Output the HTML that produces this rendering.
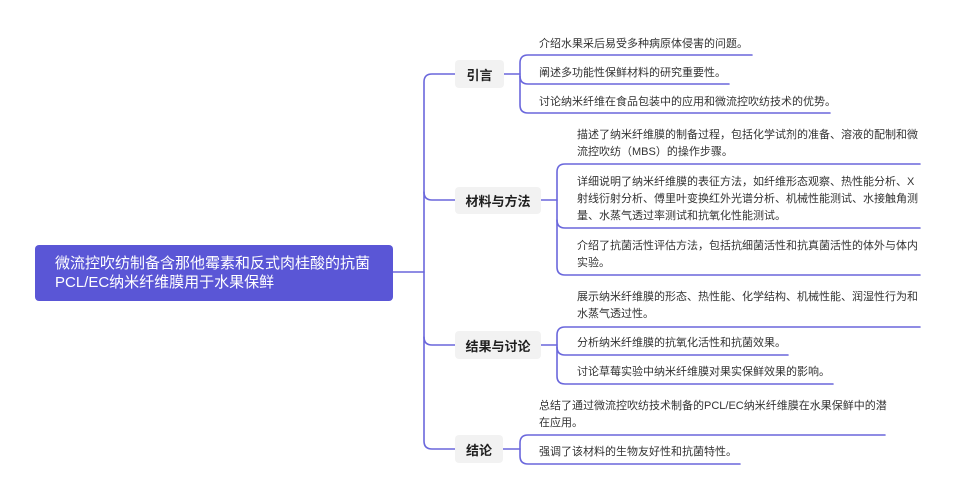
<!DOCTYPE html>
<html>
<head>
<meta charset="utf-8">
<style>
  html,body{margin:0;padding:0;background:#fff;}
  body{width:955px;height:499px;position:relative;overflow:hidden;
    font-family:"Liberation Sans","Noto Sans CJK SC",sans-serif;}
  svg{position:absolute;left:0;top:0;}
  .root{position:absolute;left:35px;top:245px;width:358px;height:56px;background:#5a56d6;border-radius:4px;}
  .rt{position:absolute;left:55px;color:#fff;font-size:15px;line-height:19px;white-space:nowrap;}
  .node{position:absolute;background:#f2f2f2;border-radius:4px;color:#1f1f1f;font-weight:bold;
    font-size:13px;display:flex;align-items:center;justify-content:center;white-space:nowrap;}
  .leaf{position:absolute;font-size:11px;line-height:17px;color:#333;white-space:nowrap;}
</style>
</head>
<body>
<svg width="955" height="499" viewBox="0 0 955 499">
  <g fill="none" stroke="#6a67dc" stroke-width="1.6" stroke-linecap="round">
    <!-- trunk -->
    <path d="M455 74 H432 Q424 74 424 82 V441 Q424 449 432 449 H455"/>
    <path d="M393 272 H424"/>
    <path d="M424 192 Q424 200 432 200 H455"/>
    <path d="M424 337 Q424 345 432 345 H455"/>
    <!-- node to bracket -->
    <path d="M504 74 H520"/>
    <path d="M541 200 H557"/>
    <path d="M541 345 H557"/>
    <path d="M503 449 H520"/>
    <!-- 引言 bracket -->
    <path d="M752 55 H528 Q520 55 520 63 V105 Q520 113 528 113 H830"/>
    <path d="M520 76 Q520 84 528 84 H729"/>
    <!-- 材料与方法 bracket -->
    <path d="M920 164 H565 Q557 164 557 172 V267 Q557 275 565 275 H920"/>
    <path d="M557 220 Q557 228 565 228 H920"/>
    <!-- 结果与讨论 bracket -->
    <path d="M920 327 H565 Q557 327 557 335 V376 Q557 384 565 384 H833"/>
    <path d="M557 347 Q557 355 565 355 H788"/>
    <!-- 结论 bracket -->
    <path d="M885 435 H528 Q520 435 520 443 V456 Q520 464 528 464 H740"/>
  </g>
</svg>

<div class="root"></div>
<div class="rt" style="top:253.5px;">微流控吹纺制备含那他霉素和反式肉桂酸的抗菌</div>
<div class="rt" style="top:272.5px;">PCL/EC纳米纤维膜用于水果保鲜</div>

<div class="node" style="left:455px;top:60px;width:49px;height:28px;">引言</div>
<div class="node" style="left:455px;top:187px;width:86px;height:27px;">材料与方法</div>
<div class="node" style="left:455px;top:331px;width:86px;height:28px;">结果与讨论</div>
<div class="node" style="left:455px;top:435px;width:48px;height:28px;">结论</div>

<!-- 引言 leaves -->
<div class="leaf" style="left:539px;top:35.5px;">介绍水果采后易受多种病原体侵害的问题。</div>
<div class="leaf" style="left:539px;top:64.5px;">阐述多功能性保鲜材料的研究重要性。</div>
<div class="leaf" style="left:539px;top:93.5px;">讨论纳米纤维在食品包装中的应用和微流控吹纺技术的优势。</div>

<!-- 材料与方法 leaves -->
<div class="leaf" style="left:577px;top:127px;">描述了纳米纤维膜的制备过程，包括化学试剂的准备、溶液的配制和微<br>流控吹纺（MBS）的操作步骤。</div>
<div class="leaf" style="left:577px;top:174px;">详细说明了纳米纤维膜的表征方法，如纤维形态观察、热性能分析、X<br>射线衍射分析、傅里叶变换红外光谱分析、机械性能测试、水接触角测<br>量、水蒸气透过率测试和抗氧化性能测试。</div>
<div class="leaf" style="left:577px;top:238px;">介绍了抗菌活性评估方法，包括抗细菌活性和抗真菌活性的体外与体内<br>实验。</div>

<!-- 结果与讨论 leaves -->
<div class="leaf" style="left:577px;top:289px;">展示纳米纤维膜的形态、热性能、化学结构、机械性能、润湿性行为和<br>水蒸气透过性。</div>
<div class="leaf" style="left:577px;top:335px;">分析纳米纤维膜的抗氧化活性和抗菌效果。</div>
<div class="leaf" style="left:577px;top:364px;">讨论草莓实验中纳米纤维膜对果实保鲜效果的影响。</div>

<!-- 结论 leaves -->
<div class="leaf" style="left:539px;top:398px;">总结了通过微流控吹纺技术制备的PCL/EC纳米纤维膜在水果保鲜中的潜<br>在应用。</div>
<div class="leaf" style="left:539px;top:444px;">强调了该材料的生物友好性和抗菌特性。</div>
</body>
</html>
